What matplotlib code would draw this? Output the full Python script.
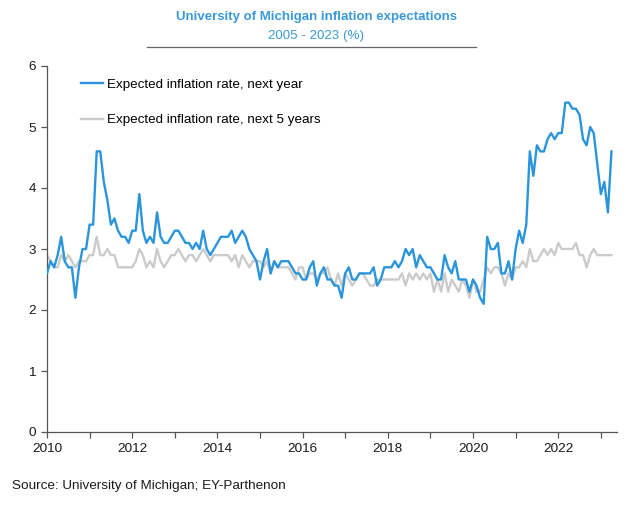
import numpy as np
import matplotlib
matplotlib.use("Agg")
import matplotlib.pyplot as plt
from matplotlib.lines import Line2D

plt.rcParams['font.family'] = ['Liberation Sans', 'DejaVu Sans']

start_year = 2010
one_year = [
    # 2010
    2.6, 2.8, 2.7, 2.9, 3.2, 2.8, 2.7, 2.7, 2.2, 2.7, 3.0, 3.0,
    # 2011
    3.4, 3.4, 4.6, 4.6, 4.1, 3.8, 3.4, 3.5, 3.3, 3.2, 3.2, 3.1,
    # 2012
    3.3, 3.3, 3.9, 3.3, 3.1, 3.2, 3.1, 3.6, 3.2, 3.1, 3.1, 3.2,
    # 2013
    3.3, 3.3, 3.2, 3.1, 3.1, 3.0, 3.1, 3.0, 3.3, 3.0, 2.9, 3.0,
    # 2014
    3.1, 3.2, 3.2, 3.2, 3.3, 3.1, 3.2, 3.3, 3.2, 3.0, 2.9, 2.8,
    # 2015
    2.5, 2.8, 3.0, 2.6, 2.8, 2.7, 2.8, 2.8, 2.8, 2.7, 2.6, 2.6,
    # 2016
    2.5, 2.5, 2.7, 2.8, 2.4, 2.6, 2.7, 2.5, 2.5, 2.4, 2.4, 2.2,
    # 2017
    2.6, 2.7, 2.5, 2.5, 2.6, 2.6, 2.6, 2.6, 2.7, 2.4, 2.5, 2.7,
    # 2018
    2.7, 2.7, 2.8, 2.7, 2.8, 3.0, 2.9, 3.0, 2.7, 2.9, 2.8, 2.7,
    # 2019
    2.7, 2.6, 2.5, 2.5, 2.9, 2.7, 2.6, 2.8, 2.5, 2.5, 2.5, 2.3,
    # 2020
    2.5, 2.4, 2.2, 2.1, 3.2, 3.0, 3.0, 3.1, 2.6, 2.6, 2.8, 2.5,
    # 2021
    3.0, 3.3, 3.1, 3.4, 4.6, 4.2, 4.7, 4.6, 4.6, 4.8, 4.9, 4.8,
    # 2022
    4.9, 4.9, 5.4, 5.4, 5.3, 5.3, 5.2, 4.8, 4.7, 5.0, 4.9, 4.4,
    # 2023
    3.9, 4.1, 3.6, 4.6,
]
five_year = [
    # 2010
    2.9, 2.8, 2.7, 2.7, 2.9, 2.8, 2.9, 2.8, 2.7, 2.8, 2.8, 2.8,
    # 2011
    2.9, 2.9, 3.2, 2.9, 2.9, 3.0, 2.9, 2.9, 2.7, 2.7, 2.7, 2.7,
    # 2012
    2.7, 2.8, 3.0, 2.9, 2.7, 2.8, 2.7, 3.0, 2.8, 2.7, 2.8, 2.9,
    # 2013
    2.9, 3.0, 2.9, 2.8, 2.9, 2.9, 2.8, 2.9, 3.0, 2.9, 2.8, 2.9,
    # 2014
    2.9, 2.9, 2.9, 2.9, 2.8, 2.9, 2.7, 2.9, 2.8, 2.7, 2.8, 2.8,
    # 2015
    2.8, 2.7, 2.8, 2.6, 2.8, 2.7, 2.7, 2.7, 2.7, 2.6, 2.5, 2.7,
    # 2016
    2.7, 2.5, 2.6, 2.6, 2.5, 2.6, 2.6, 2.7, 2.5, 2.4, 2.6, 2.4,
    # 2017
    2.6, 2.5, 2.4, 2.5, 2.6, 2.6, 2.5, 2.4, 2.4, 2.5, 2.5, 2.5,
    # 2018
    2.5, 2.5, 2.5, 2.5, 2.6, 2.4, 2.6, 2.5, 2.6, 2.5, 2.6, 2.5,
    # 2019
    2.6, 2.3, 2.5, 2.3, 2.6, 2.3, 2.5, 2.4, 2.3, 2.5, 2.4, 2.2,
    # 2020
    2.5, 2.3, 2.3, 2.5, 2.7, 2.6, 2.7, 2.7, 2.6, 2.4, 2.6, 2.5,
    # 2021
    2.7, 2.7, 2.8, 2.7, 3.0, 2.8, 2.8, 2.9, 3.0, 2.9, 3.0, 2.9,
    # 2022
    3.1, 3.0, 3.0, 3.0, 3.0, 3.1, 2.9, 2.9, 2.7, 2.9, 3.0, 2.9,
    # 2023
    2.9, 2.9, 2.9, 2.9,
]
series_labels = ["Expected inflation rate, next year",
                 "Expected inflation rate, next 5 years"]
title = "University of Michigan inflation expectations"
subtitle = "2005 - 2023 (%)"
source = "Source: University of Michigan; EY-Parthenon"
x_ticks = [2010, 2012, 2014, 2016, 2018, 2020, 2022]
y_ticks = [0, 1, 2, 3, 4, 5, 6]

blue = "#2B95DC"
gray = "#CBCBCB"
title_blue = "#3A9AD9"
axis_col = "#555555"

t1 = start_year + np.arange(len(one_year)) / 12.0
t5 = start_year + np.arange(len(five_year)) / 12.0

fig = plt.figure(figsize=(6.30, 5.05), dpi=100)
ax = fig.add_axes([47/630, 1-432/505, (617-47)/630, (432-66)/505])

ax.plot(t5, five_year, color=gray, lw=1.7, solid_joinstyle='round', zorder=2)
ax.plot(t1, one_year, color=blue, lw=1.7, solid_joinstyle='round', zorder=3)

ax.set_xlim(2010, 2023.38)
ax.set_ylim(0, 6)
ax.set_xticks(x_ticks)
ax.set_xticklabels([str(v) for v in x_ticks])
ax.set_xticks(np.arange(2011, 2024, 1), minor=True)
ax.set_yticks(y_ticks)
ax.set_yticklabels([str(v) for v in y_ticks])

for s in ['top', 'right']:
    ax.spines[s].set_visible(False)
for s in ['left', 'bottom']:
    ax.spines[s].set_color(axis_col)
    ax.spines[s].set_linewidth(0.9)
ax.tick_params(axis='both', which='both', direction='out', colors=axis_col,
               labelcolor='#1a1a1a', labelsize=9.7, width=0.9)
ax.tick_params(axis='both', which='major', length=4)
ax.tick_params(axis='x', which='minor', length=4)
ax.tick_params(axis='x', pad=4)
ax.tick_params(axis='y', pad=4)

handles = [Line2D([], [], color=blue, lw=1.7), Line2D([], [], color=gray, lw=1.7)]
ax.legend(handles, series_labels, loc='upper left', frameon=False,
          bbox_to_anchor=(29/570, 1 - 7/366), fontsize=9.6,
          handlelength=1.65, handletextpad=0.25, labelspacing=1.75,
          borderaxespad=0)

fig.text(316/630, 1-17/505, title, ha='center', va='center', color=title_blue,
         fontsize=9.5, fontweight='bold')
fig.text(316/630, 1-35.5/505, subtitle, ha='center', va='center', color=title_blue,
         fontsize=9.6)
fig.add_artist(Line2D([147/630, 476/630], [1-47/505, 1-47/505],
                      transform=fig.transFigure, color='#666666', lw=0.9))
fig.text(12/630, 1-486/505, source, ha='left', va='center', color='#1a1a1a',
         fontsize=9.7)

fig.savefig("out.png", dpi=100)
